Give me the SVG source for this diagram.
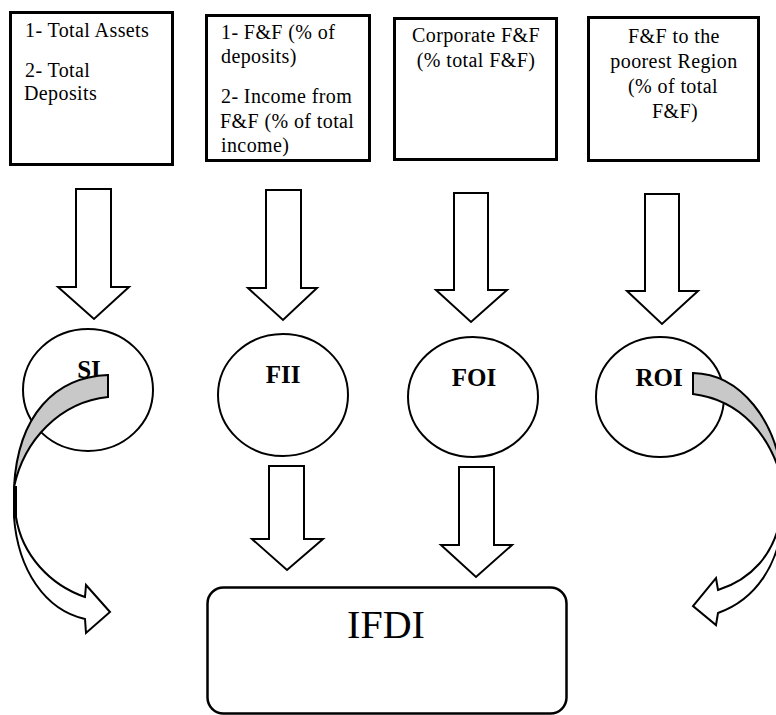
<svg xmlns="http://www.w3.org/2000/svg" width="776" height="715" viewBox="0 0 776 715">
<style>
.box{fill:#fff;stroke:#000;stroke-width:3}
.ell{fill:#fff;stroke:#000;stroke-width:2}
.blk{fill:#fff;stroke:#000;stroke-width:2;stroke-linejoin:miter}
.gray{fill:#c8c8c8;stroke:#000;stroke-width:2;stroke-linejoin:miter}
.t{font-family:"Liberation Serif","Times New Roman",serif;font-size:20px;letter-spacing:0.4px;fill:#000}
.c{text-anchor:middle}
.lbl{font-family:"Liberation Serif","Times New Roman",serif;font-size:25px;font-weight:bold;text-anchor:middle;fill:#000}
.big{font-family:"Liberation Serif","Times New Roman",serif;font-size:40px;text-anchor:middle;fill:#000}
</style>
<rect width="776" height="715" fill="#fff"/>
<g id="box-size">
<rect class="box" x="10.5" y="12.5" width="162" height="152"/>
<text class="t" x="25" y="37">1- Total Assets</text>
<text class="t" x="25" y="77">2- Total</text>
<text class="t" x="24" y="100">Deposits</text>
</g>
<g id="box-ff">
<rect class="box" x="206.5" y="15.5" width="163" height="145"/>
<text class="t" x="221" y="39">1- F&amp;F (% of</text>
<text class="t" x="221" y="63">deposits)</text>
<text class="t" x="221" y="103">2- Income from</text>
<text class="t" x="220" y="128">F&amp;F (% of total</text>
<text class="t" x="221" y="152">income)</text>
</g>
<g id="box-corp">
<rect class="box" x="394.5" y="18.5" width="162" height="141"/>
<text class="t c" x="476" y="42">Corporate F&amp;F</text>
<text class="t c" x="476" y="67">(% total F&amp;F)</text>
</g>
<g id="box-region">
<rect class="box" x="588.5" y="17.5" width="170" height="143"/>
<text class="t c" x="674" y="43">F&amp;F to the</text>
<text class="t c" x="674" y="68">poorest Region</text>
<text class="t c" x="673" y="93">(% of total</text>
<text class="t c" x="675" y="118">F&amp;F)</text>
</g>
<g id="node-SI">
<ellipse class="ell" cx="88" cy="390" rx="65" ry="61"/>
<text class="lbl" x="89" y="378">SI</text>
</g>
<g id="node-FII">
<ellipse class="ell" cx="283" cy="395" rx="65" ry="61"/>
<text class="lbl" x="283" y="383">FII</text>
</g>
<g id="node-FOI">
<ellipse class="ell" cx="473" cy="397" rx="65" ry="60"/>
<text class="lbl" x="474" y="386">FOI</text>
</g>
<g id="node-ROI">
<ellipse class="ell" cx="660" cy="397" rx="64" ry="60"/>
<text class="lbl" x="659" y="386">ROI</text>
</g>
<g id="node-IFDI">
<rect x="207.5" y="587.5" width="359" height="126" rx="16" ry="16" fill="#fff" stroke="#000" stroke-width="2.5"/>
<text class="big" x="386" y="638">IFDI</text>
</g>
<g id="connectors">
<polygon class="blk" points="76,189 111,189 111,287 129,287 94,319 58,287 76,287"/>
<polygon class="blk" points="266,190 301,190 301,288 317,288 283,320 248,288 266,288"/>
<polygon class="blk" points="454,193 488,193 488,290 507,290 471,322 436,290 454,290"/>
<polygon class="blk" points="645,194 679,194 679,291 698,291 662,324 627,291 645,291"/>
<polygon class="blk" points="269,466 304,466 304,539 323,539 287,570 252,539 269,539"/>
<polygon class="blk" points="459,467 494,467 494,545 512,545 476,577 441,545 459,545"/>
<path class="gray" d="M108,375 L108,397 C60,402 24,440 14,487 C18,415 55,377 108,375 Z"/>
<path class="blk" d="M14,487 L14,517 C18,570 45,610 85,619 L86,633 L110,612 L86,585 L85,597 C50,585 22,555 16,517 L16,487 Z"/>
<path class="gray" d="M693,373 L693,394 C740,400 772,435 783,485 C778,420 740,374 693,373 Z"/>
<path class="blk" d="M783,485 L783,515 C780,565 755,600 718,613 L716,625 L693,606 L716,578 L718,590 C750,580 775,555 781,515 L781,485 Z"/>
</g>
</svg>
